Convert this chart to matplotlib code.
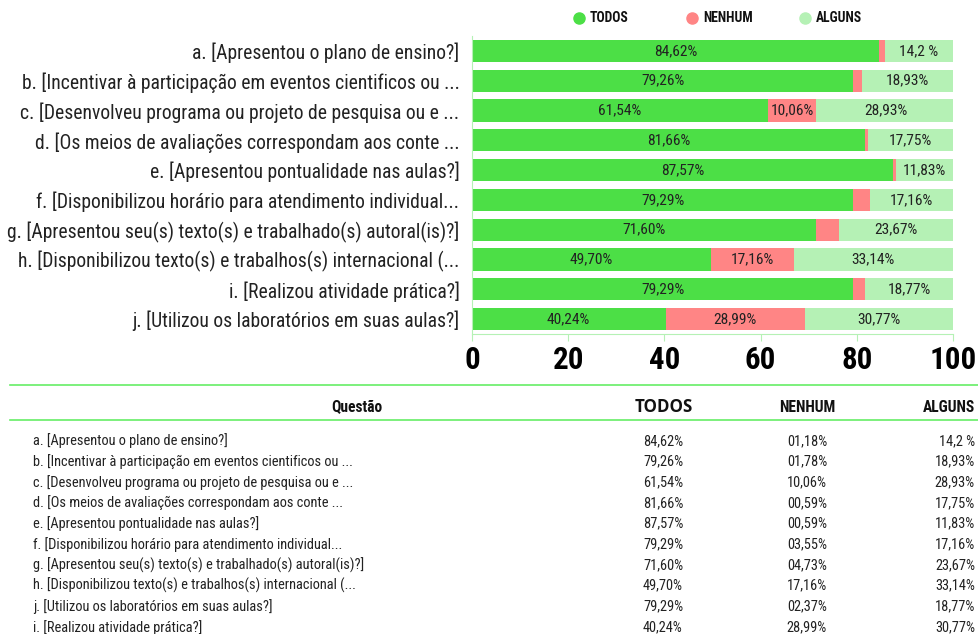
import matplotlib
matplotlib.use("Agg")
import matplotlib.pyplot as plt
from matplotlib.lines import Line2D
import numpy as np

# narrow face first if one is installed, otherwise the next one in the list
plt.rcParams['font.family'] = ['Roboto Condensed', 'Open Sans Condensed', 'Noto Sans Condensed',
                               'Liberation Sans Narrow', 'Liberation Sans', 'DejaVu Sans']
plt.rcParams['font.stretch'] = 'condensed'

perguntas = [
    "a. [Apresentou o plano de ensino?]",
    "b. [Incentivar à participação em eventos cientificos ou ...",
    "c. [Desenvolveu programa ou projeto de pesquisa ou e ...",
    "d. [Os meios de avaliações correspondam aos conte ...",
    "e. [Apresentou pontualidade nas aulas?]",
    "f. [Disponibilizou horário para atendimento individual...",
    "g. [Apresentou seu(s) texto(s) e trabalhado(s) autoral(is)?]",
    "h. [Disponibilizou texto(s) e trabalhos(s) internacional (...",
    "i. [Realizou atividade prática?]",
    "j. [Utilizou os laboratórios em suas aulas?]",
]
todos = [84.62, 79.26, 61.54, 81.66, 87.57, 79.29, 71.60, 49.70, 79.29, 40.24]
nenhum = [1.18, 1.78, 10.06, 0.59, 0.59, 3.55, 4.73, 17.16, 2.37, 28.99]
alguns = [14.2, 18.93, 28.93, 17.75, 11.83, 17.16, 23.67, 33.14, 18.77, 30.77]

todos_txt = ["84,62%", "79,26%", "61,54%", "81,66%", "87,57%", "79,29%", "71,60%", "49,70%", "79,29%", "40,24%"]
nenhum_txt = ["01,18%", "01,78%", "10,06%", "00,59%", "00,59%", "03,55%", "04,73%", "17,16%", "02,37%", "28,99%"]
alguns_txt = ["14,2 %", "18,93%", "28,93%", "17,75%", "11,83%", "17,16%", "23,67%", "33,14%", "18,77%", "30,77%"]

# in the table the last two questions appear with swapped labels
tabela_perguntas = perguntas[:8] + [perguntas[9], perguntas[8]]

series = ["TODOS", "NENHUM", "ALGUNS"]
cores = ["#4cdf46", "#ff8585", "#b5f1b5"]
verde_linha = "#66ee66"
texto = "#222222"

fig = plt.figure(figsize=(9.79, 6.34), dpi=100)
renderer = fig.canvas.get_renderer()


def tamanho(s, largura_px, **kw):
    # font size that gives the text the width seen in the reference
    t = fig.text(0, 0, s, fontsize=10, **kw)
    w = t.get_window_extent(renderer).width
    t.remove()
    return 10 * largura_px / w


fs_rotulo = tamanho(perguntas[0], 266)
fs_barra = tamanho("84,62%", 43)
fs_tick = tamanho("100", 47, fontweight="bold")
fs_tab = tamanho(tabela_perguntas[0], 195)
fs_leg = tamanho("TODOS NENHUM ALGUNS", 140, fontweight="bold")
fs_cab = tamanho("Questão NENHUM ALGUNS", 53 + 57 + 49 + 8, fontweight="bold")
fs_todos = tamanho("TODOS", 58, fontweight="bold", family=["Open Sans", "DejaVu Sans"], stretch="normal")

ax = fig.add_axes([0.4821, 0.4732, 0.4913, 0.4700])

y = np.arange(len(perguntas))
esq = np.zeros(len(perguntas))
for vals, txts, cor in zip([todos, nenhum, alguns], [todos_txt, nenhum_txt, alguns_txt], cores):
    vals = np.array(vals)
    ax.barh(y, vals, left=esq, height=0.74, color=cor, edgecolor="none")
    for i in range(len(vals)):
        if vals[i] > 6:
            ax.text(esq[i] + vals[i] / 2, y[i], txts[i], ha="center", va="center",
                    fontsize=fs_barra, color=texto)
    esq += vals

ax.set_xlim(0, 100)
ax.set_ylim(len(perguntas) - 0.5, -0.5)
ax.set_yticks(y)
ax.set_yticklabels(perguntas, fontsize=fs_rotulo, color=texto)
ax.set_xticks([0, 20, 40, 60, 80, 100])
ax.tick_params(axis="y", length=0, pad=9)
ax.tick_params(axis="x", length=5, color="#b5f1b5", labelsize=fs_tick, pad=3)
for lab in ax.get_xticklabels():
    lab.set_fontweight("bold")
for s in ["top", "right"]:
    ax.spines[s].set_visible(False)
ax.spines["left"].set_color("#b5f1b5")
ax.spines["bottom"].set_color("#b5f1b5")

# legend with round markers
ly = 1 - 18 / 634
for nome, cor, mx in zip(series, cores, [579, 692, 805]):
    fig.add_artist(Line2D([mx / 979], [ly], marker="o", markersize=8, color=cor, linestyle="none"))
    fig.text((mx + 11) / 979, ly, nome, ha="left", va="center", fontsize=fs_leg, fontweight="bold", color="#111111")

# table below the chart
fig.add_artist(Line2D([10 / 979, 1.0], [1 - 385 / 634, 1 - 385 / 634], color=verde_linha, lw=1.2))
fig.add_artist(Line2D([10 / 979, 1.0], [1 - 420 / 634, 1 - 420 / 634], color=verde_linha, lw=1.2))

hy = 1 - 407 / 634
fig.text(357 / 979, hy, "Questão", ha="center", va="center", fontsize=fs_cab, fontweight="bold", color="#111111")
fig.text(664 / 979, hy, "TODOS", ha="center", va="center", fontsize=fs_todos, fontweight="bold", color="#111111",
         family=["Open Sans", "DejaVu Sans"], stretch="normal")
fig.text(807 / 979, hy, "NENHUM", ha="center", va="center", fontsize=fs_cab, fontweight="bold", color="#111111")
fig.text(975 / 979, hy, "ALGUNS", ha="right", va="center", fontsize=fs_cab, fontweight="bold", color="#111111")

for i in range(len(tabela_perguntas)):
    ry = 1 - (441 + i * 20.67) / 634
    fig.text(33 / 979, ry, tabela_perguntas[i], ha="left", va="center", fontsize=fs_tab, color=texto)
    fig.text(663 / 979, ry, todos_txt[i], ha="center", va="center", fontsize=fs_tab, color=texto)
    fig.text(807 / 979, ry, nenhum_txt[i], ha="center", va="center", fontsize=fs_tab, color=texto)
    fig.text(975 / 979, ry, alguns_txt[i], ha="right", va="center", fontsize=fs_tab, color=texto)

fig.savefig("out.png", dpi=100)
